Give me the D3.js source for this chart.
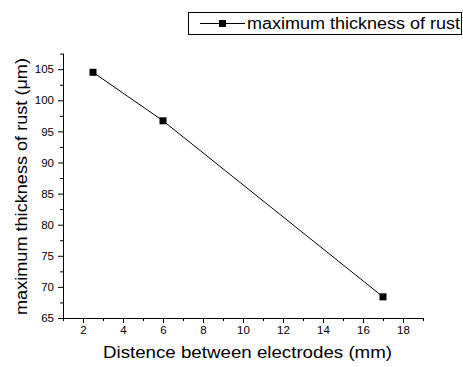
<!DOCTYPE html>
<html>
<head>
<meta charset="utf-8">
<script src="https://cdn.jsdelivr.net/npm/d3@7"></script>
<style>
  body { margin: 0; background: #fff; }
  svg { font-family: "Liberation Sans", Arial, sans-serif; }
</style>
</head>
<body>
<div id="chart"></div>
<script>
// data
const distances = [2.5, 6, 17];
const thickness = [104.5, 96.7, 68.4];
const xTicks = [2, 4, 6, 8, 10, 12, 14, 16, 18];
const yTicks = [65, 70, 75, 80, 85, 90, 95, 100, 105];
const seriesName = 'maximum thickness of rust';

const width = 463, height = 367;
const margin = { left: 63, right: 40, top: 53, bottom: 49 };

const svg = d3.select('#chart').append('svg')
  .attr('width', width)
  .attr('height', height);

const x = d3.scaleLinear().domain([1, 19]).range([margin.left, width - margin.right]);
const y = d3.scaleLinear().domain([65, 107.6]).range([height - margin.bottom, margin.top]);

// minor ticks
const xMinor = d3.range(1, 19.01, 1).filter(d => xTicks.indexOf(d) < 0);
const yMinor = d3.range(67.5, 107.6, 5);

svg.append('g')
  .attr('transform', `translate(0,${height - margin.bottom})`)
  .call(d3.axisBottom(x).tickValues(xMinor).tickSize(3).tickFormat(''))
  .call(g => g.select('.domain').remove());

svg.append('g')
  .attr('transform', `translate(${margin.left},0)`)
  .call(d3.axisLeft(y).tickValues(yMinor).tickSize(3).tickFormat(''))
  .call(g => g.select('.domain').remove());

svg.append('g')
  .attr('transform', `translate(0,${height - margin.bottom})`)
  .call(d3.axisBottom(x).tickValues(xTicks).tickSize(5).tickSizeOuter(0).tickPadding(3));

svg.append('g')
  .attr('transform', `translate(${margin.left},0)`)
  .call(d3.axisLeft(y).tickValues(yTicks).tickSize(5).tickSizeOuter(0).tickPadding(4));

svg.selectAll('.tick text')
  .attr('font-size', 11.5)
  .attr('font-family', '"Liberation Sans", Arial, sans-serif')
  .attr('fill', '#000');

// axis titles (the original font is a bit wider, so stretch to the measured length)
svg.append('text')
  .attr('x', 103)
  .attr('y', 358)
  .attr('font-size', 16.5)
  .attr('textLength', 289)
  .attr('lengthAdjust', 'spacingAndGlyphs')
  .text('Distence between electrodes (mm)');

svg.append('text')
  .attr('transform', 'translate(27,315) rotate(-90)')
  .attr('font-size', 16.5)
  .attr('textLength', 257)
  .attr('lengthAdjust', 'spacingAndGlyphs')
  .text('maximum thickness of rust (\u03bcm)');

// series
const pts = distances.map((d, i) => [d, thickness[i]]);

svg.append('path')
  .datum(pts)
  .attr('fill', 'none')
  .attr('stroke', '#000')
  .attr('stroke-width', 1)
  .attr('d', d3.line().x(d => x(d[0])).y(d => y(d[1])));

svg.selectAll('rect.pt')
  .data(pts).enter()
  .append('rect')
    .attr('class', 'pt')
    .attr('x', d => x(d[0]) - 3.5)
    .attr('y', d => y(d[1]) - 3.5)
    .attr('width', 7)
    .attr('height', 7)
    .attr('fill', '#000');

// legend
const legend = svg.append('g');
legend.append('rect')
  .attr('x', 188.5).attr('y', 12.5)
  .attr('width', 273).attr('height', 22)
  .attr('fill', '#fff').attr('stroke', '#000');
legend.append('line')
  .attr('x1', 200).attr('x2', 245)
  .attr('y1', 23.5).attr('y2', 23.5)
  .attr('stroke', '#000');
legend.append('rect')
  .attr('x', 219).attr('y', 20).attr('width', 7).attr('height', 7)
  .attr('fill', '#000');
legend.append('text')
  .attr('x', 247).attr('y', 29)
  .attr('font-size', 16)
  .attr('textLength', 213)
  .attr('lengthAdjust', 'spacingAndGlyphs')
  .text(seriesName);
</script>
</body>
</html>
